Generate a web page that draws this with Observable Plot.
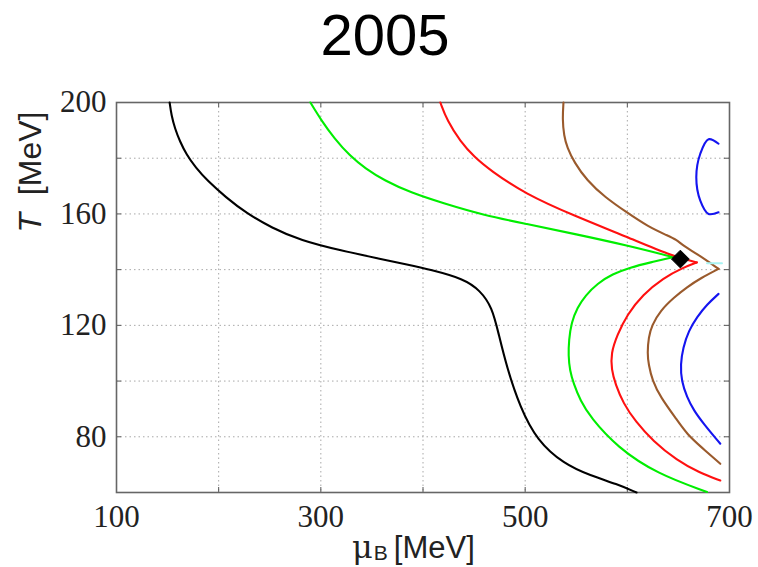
<!DOCTYPE html>
<html>
<head>
<meta charset="utf-8">
<script src="https://cdn.jsdelivr.net/npm/d3@7"></script>
<script src="https://cdn.jsdelivr.net/npm/@observablehq/plot@0.6"></script>
<style>
  html, body { margin: 0; padding: 0; background: #fff; }
  #wrap { width: 758px; height: 567px; overflow: hidden; }
  #title {
    height: 80px; box-sizing: border-box; padding-top: 6px; padding-left: 12px;
    font-family: "Liberation Sans", Arial, sans-serif; font-size: 58px; line-height: 58px;
    text-align: center; color: #000;
  }
  svg { display: block; }
</style>
</head>
<body>
<div id="wrap">
  <div id="title">2005</div>
  <div id="chart"></div>
</div>
<script>
// Contour lines in the (mu_B, T) plane, each branch as [mu_B (MeV), T (MeV)] points
const blackLine = [[152,200],[153.8,195.3],[157.2,190.7],[162.1,186],[168.5,181.3],[177.3,176.7],[188.7,172],[207,166],[227,160.3],[252,155],[280,150.5],[320,146.8],[358,143.9],[385,141.8],[407,140],[440,136.7],[456,132.5],[467.6,126.5],[474,117],[482,105],[495,90.6],[511.6,78.7],[537.7,70.3],[563.8,66.1],[590,63],[609,60]];

const greenUpper = [[289.8,200],[300.6,193.5],[313.3,187.1],[328,181],[343.6,176.3],[362.2,172],[387.7,167.7],[420,163.8],[460,159.5],[500,156.5],[550,152.7],[600,148.7],[645,144.5]];
const greenLower = [[645,144.5],[622.5,142.6],[602.9,140.8],[585.3,138.4],[570.6,135],[558.9,130.7],[551.1,126.4],[545.2,121],[542.8,114.6],[542.3,109.2],[543.7,103.8],[547.5,99],[554,93],[563.8,87],[589.9,76.3],[629,66.7],[678,60.2]];

const redUpper = [[417,200],[423.6,193.5],[436.6,186],[450,180.5],[466,175.6],[500,167.2],[547.5,159.4],[600,151.7],[642,145.1],[668,142.6]];
const redLower = [[668,142.6],[655,140.8],[635,137],[615,131],[600,124],[590,116.5],[584,110],[584.5,104],[588.3,99],[596,92],[608,85.5],[625,78.5],[648.5,71.5],[670,67.2],[691,64.3]];

const brownUpper = [[537.5,200],[536.5,194],[538,188],[541,184],[548,178.5],[560.5,172],[578,166],[600,160.4],[620,155.5],[638.8,152.3],[648,150.8],[655,148.5],[668,145.7],[689.3,140.3]];
const brownLower = [[689.3,140.3],[672,137],[658.3,133.7],[645.9,130.1],[632.3,125.3],[624,120],[620.8,115.8],[619.6,110],[620.8,106],[624.5,100.2],[632.3,94.3],[648.9,85.9],[658.3,81],[672.6,76.2],[691,70.3]];

const blueUpper = [[689.3,185.2],[679.5,186.8],[671.4,181.6],[667.5,173.2],[671.4,164.8],[679.5,160],[689.3,160.6]];
const blueLower = [[689.3,131.3],[678,127.5],[668,122.9],[660,118],[654.5,112],[652,106],[653,100],[658.3,94.3],[665,89.5],[674.6,84.7],[691,77.5]];

const cyanStub = [[678,142.3],[692.6,142.3]];

// Critical end point
const criticalPoint = [[651.9,143.8]];

// Axis ticks
const xGridTicks = [100, 200, 300, 400, 500, 600, 700];
const yGridTicks = [60, 80, 100, 120, 140, 160, 180, 200];
const xTickLabels = [100, 300, 500, 700];
const yTickLabels = [80, 120, 160, 200];

const branches = [
  ["black", "#000000", blackLine],
  ["green-upper", "#00ee00", greenUpper],
  ["green-lower", "#00ee00", greenLower],
  ["red-upper", "#ff1010", redUpper],
  ["red-lower", "#ff1010", redLower],
  ["brown-upper", "#9a5a2c", brownUpper],
  ["brown-lower", "#9a5a2c", brownLower],
  ["blue-upper", "#1414f0", blueUpper],
  ["blue-lower", "#1414f0", blueLower],
  ["cyan", "#a8f4f4", cyanStub]
];
const rows = branches.flatMap(([name, color, pts]) =>
  pts.map(([mu, T]) => ({branch: name, color, mu, T})));
// the short blue arc keeps its hooked ends, so it is drawn through its points
const hooked = new Set(["blue-upper", "cyan"]);

const W = 758, H = 487;
const mL = 116, mR = 29, mT = 22, mB = 75;
const innerW = W - mL - mR, innerH = H - mT - mB;
const tickLen = 5;

const gridStyle = {stroke: "#a8a8a8", strokeOpacity: 1, strokeWidth: 1, strokeDasharray: "1.5,3"};
const tickStyle = {stroke: "#555", strokeWidth: 1};
const lineStyle = {x: "mu", y: "T", z: "branch", stroke: "color", strokeWidth: 2.1};

const chart = Plot.plot({
  width: W, height: H,
  marginLeft: mL, marginRight: mR, marginTop: mT, marginBottom: mB,
  x: {domain: [100, 700]},
  y: {domain: [60, 200]},
  color: {type: "identity"},
  style: {fontFamily: "'Liberation Serif', serif", fontSize: "31px", color: "#222", background: "#fff"},
  marks: [
    Plot.gridX(xGridTicks, gridStyle),
    Plot.gridY(yGridTicks, gridStyle),
    // small inward ticks on all four sides
    Plot.ruleX(xGridTicks, {x: d => d, insetTop: innerH - tickLen, ...tickStyle}),
    Plot.ruleX(xGridTicks, {x: d => d, insetBottom: innerH - tickLen, ...tickStyle}),
    Plot.ruleY(yGridTicks, {y: d => d, insetRight: innerW - tickLen, ...tickStyle}),
    Plot.ruleY(yGridTicks, {y: d => d, insetLeft: innerW - tickLen, ...tickStyle}),
    Plot.frame({stroke: "#666", strokeWidth: 1.6}),
    Plot.axisX(xTickLabels, {tickSize: 0, tickPadding: 12, fontSize: 31, label: null}),
    Plot.axisY(yTickLabels, {tickSize: 0, tickPadding: 10, fontSize: 31, label: null}),
    Plot.line(rows.filter(r => !hooked.has(r.branch)), {...lineStyle, curve: "basis"}),
    Plot.line(rows.filter(r => hooked.has(r.branch)), {...lineStyle, curve: "catmull-rom"}),
    Plot.dot(criticalPoint, {x: d => d[0], y: d => d[1], symbol: "diamond2", r: 8, fill: "#000", stroke: "#000", strokeWidth: 1})
  ]
});

document.getElementById("chart").append(chart);

// Axis titles with italic T and subscript B
const svg = d3.select(chart);
const xl = svg.append("text")
  .attr("x", 352).attr("y", 478)
  .attr("text-anchor", "start")
  .attr("fill", "#222")
  .style("font-family", "'Liberation Sans', Arial, sans-serif")
  .style("font-size", "31px");
xl.append("tspan").style("font-family", "'DejaVu Serif', serif").style("font-size", "32px").text("μ");
xl.append("tspan").attr("dy", 2).attr("dx", 1).style("font-size", "21px").text("B");
xl.append("tspan").attr("dy", -2).attr("dx", 6).text("[MeV]");

const yl = svg.append("text")
  .attr("transform", "translate(41,92) rotate(-90)")
  .attr("text-anchor", "middle")
  .attr("fill", "#222")
  .style("font-family", "'Liberation Sans', Arial, sans-serif")
  .style("font-size", "32px");
yl.append("tspan").style("font-style", "italic").text("T");
yl.append("tspan").text("\u00a0\u00a0[MeV]");
</script>
</body>
</html>
